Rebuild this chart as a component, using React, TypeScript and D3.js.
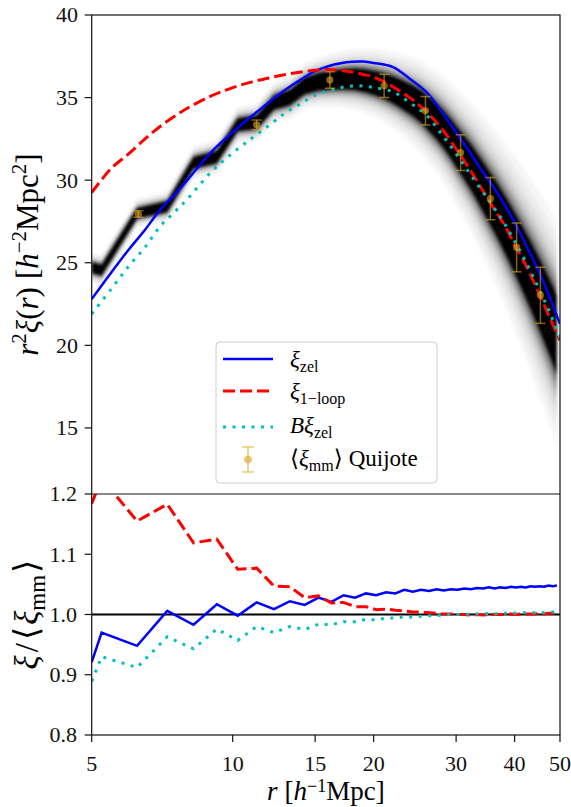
import * as d3 from 'd3'
import React from 'react'

// smooth theory curves
const rTheory = [5, 5.5, 6, 6.5, 7, 7.5, 8, 9, 10, 11, 12, 13, 14, 15, 16, 17, 18, 19, 20, 22, 24, 26, 28, 30, 32, 34, 36, 38, 40, 42, 44, 46, 48, 50];
const xiZel = [22.8, 24.4, 25.8, 27.0, 28.2, 29.1, 30.0, 31.7, 32.9, 33.9, 34.75, 35.5, 36.1, 36.6, 36.9, 37.08, 37.17, 37.18, 37.1, 36.85, 36.1, 35.3, 34.1, 32.9, 31.75, 30.6, 29.6, 28.55, 27.45, 26.25, 25.1, 23.9, 22.6, 21.3];
const xiLoop = [29.25, 30.7, 31.6, 32.5, 33.25, 33.85, 34.35, 35.1, 35.6, 35.95, 36.2, 36.4, 36.55, 36.65, 36.7, 36.65, 36.55, 36.4, 36.25, 35.65, 34.95, 34.1, 33.1, 31.9, 30.7, 29.5, 28.35, 27.3, 26.1, 25.0, 23.8, 22.6, 21.4, 20.3];
const xiB = [21.9, 23.4, 24.8, 25.95, 27.2, 28.05, 28.85, 30.5, 31.65, 32.55, 33.35, 34.1, 34.65, 35.15, 35.4, 35.6, 35.7, 35.7, 35.6, 35.35, 34.65, 33.9, 32.75, 31.6, 30.45, 29.4, 28.4, 27.4, 26.3, 25.2, 24.05, 22.9, 21.7, 20.45];

// Quijote mean with error bars
const rQuijote = [6.29, 11.25, 16.13, 21.06, 25.8, 30.67, 35.5, 40.4, 45.4];
const xiQuijote = [27.95, 33.35, 36.07, 35.71, 34.2, 31.67, 28.88, 25.93, 23.03];
const errQuijote = [0.2, 0.3, 0.5, 0.7, 0.86, 1.08, 1.28, 1.48, 1.7];

// binned r (simulation bins)
const rBins = [5, 5.25, 6.25, 7.25, 8.25, 9.25, 10.25, 11.25, 12.25, 13.25, 14.25, 15.25, 16.25, 17.25, 18.25, 19.25, 20.25, 21.25, 22.25, 23.25, 24.25, 25.25, 26.25, 27.25, 28.25, 29.25, 30.25, 31.25, 32.25, 33.25, 34.25, 35.25, 36.25, 37.25, 38.25, 39.25, 40.25, 41.25, 42.25, 43.25, 44.25, 45.25, 46.25, 47.25, 48.25, 49.25];
// centre and half-width of the band of realisations
const simMean = [24.7, 24.55, 28.0, 28.4, 31.05, 31.4, 33.35, 33.5, 34.7, 35.0, 35.7, 35.95, 36.05, 36.1, 36.1, 36.0, 35.85, 35.65, 35.4, 35.1, 34.8, 34.45, 34.0, 33.55, 33.05, 32.5, 31.9, 31.35, 30.8, 30.2, 29.6, 29.0, 28.45, 27.85, 27.25, 26.65, 26.05, 25.45, 24.85, 24.25, 23.65, 23.05, 22.45, 21.85, 21.25, 20.6];
const simSpread = [0.32, 0.32, 0.3, 0.32, 0.34, 0.36, 0.38, 0.4, 0.42, 0.45, 0.48, 0.52, 0.56, 0.6, 0.64, 0.68, 0.72, 0.77, 0.82, 0.87, 0.92, 0.97, 1.02, 1.07, 1.12, 1.18, 1.24, 1.3, 1.36, 1.42, 1.48, 1.54, 1.6, 1.66, 1.72, 1.78, 1.84, 1.9, 1.96, 2.02, 2.08, 2.14, 2.2, 2.26, 2.32, 2.38];

// ratio panel
const ratioZel = [0.921, 0.970, 0.948, 1.006, 0.983, 1.017, 0.998, 1.020, 1.009, 1.022, 1.016, 1.028, 1.021, 1.032, 1.028, 1.035, 1.032, 1.037, 1.035, 1.041, 1.038, 1.041, 1.039, 1.042, 1.040, 1.042, 1.041, 1.043, 1.042, 1.044, 1.043, 1.045, 1.043, 1.045, 1.044, 1.046, 1.045, 1.046, 1.045, 1.047, 1.046, 1.047, 1.046, 1.048, 1.047, 1.048];
const ratioLoop = [1.184, 1.226, 1.155, 1.183, 1.119, 1.125, 1.075, 1.077, 1.047, 1.046, 1.028, 1.031, 1.019, 1.020, 1.013, 1.013, 1.008, 1.009, 1.007, 1.006, 1.004, 1.004, 1.003, 1.002, 1.001, 1.001, 1.000, 1.000, 0.999, 1.000, 0.999, 1.000, 1.000, 1.000, 1.000, 1.001, 1.000, 1.001, 1.001, 1.001, 1.001, 1.002, 1.001, 1.002, 1.002, 1.002];
const ratioB = [0.889, 0.930, 0.912, 0.963, 0.943, 0.976, 0.957, 0.980, 0.970, 0.980, 0.975, 0.984, 0.983, 0.988, 0.988, 0.992, 0.991, 0.994, 0.994, 0.996, 0.996, 0.997, 0.998, 0.998, 0.999, 1.000, 1.000, 1.001, 1.000, 1.001, 1.001, 1.002, 1.001, 1.002, 1.002, 1.003, 1.002, 1.003, 1.003, 1.003, 1.003, 1.004, 1.003, 1.004, 1.004, 1.005];

const xTicks = [5, 10, 15, 20, 30, 40, 50];
const yTopTicks = [15, 20, 25, 30, 35, 40];
const yBotTicks = [0.8, 0.9, 1.0, 1.1, 1.2];

const font = '"Liberation Serif", "DejaVu Serif", serif';
const BLUE = '#0000ff', RED = '#ff0000', CYAN = '#00bfbf', GOLD = '#daa520';

const left = 91.7, right = 560, top = 15, mid = 494, bottom = 735;

const App = () => {
    const x = d3.scaleLog().domain([5, 50]).range([left, right]);
    const yTop = d3.scaleLinear().domain([11, 40]).range([mid, top]);
    const yBot = d3.scaleLinear().domain([0.8, 1.2]).range([bottom, mid]);

    const theory = (vals: number[]) =>
        d3.line<number>().x((_, i) => x(rTheory[i])).y(d => yTop(d)).curve(d3.curveCatmullRom.alpha(0.5))(vals) || '';
    const ratio = (vals: number[]) =>
        d3.line<number>().x((_, i) => x(rBins[i])).y(d => yBot(d))(vals) || '';
    const band = (k: number) =>
        d3.area<number>()
            .x((_, i) => x(rBins[i]))
            .y0((d, i) => yTop(d - k * simSpread[i]))
            .y1((d, i) => yTop(d + k * simSpread[i]))(simMean) || '';

    // stacked translucent envelopes imitate the many faint realisations
    const layers = [
        { k: 2.9, o: 0.035 },
        { k: 2.5, o: 0.045 },
        { k: 2.15, o: 0.06 },
        { k: 1.85, o: 0.08 },
        { k: 1.6, o: 0.12 },
        { k: 1.4, o: 0.18 },
        { k: 1.2, o: 0.3 },
        { k: 1.0, o: 1 },
    ];

    const zelStyle = { stroke: BLUE, strokeWidth: 2.5, fill: 'none' };
    const loopStyle = { stroke: RED, strokeWidth: 3, fill: 'none', strokeDasharray: '12,5' };
    const bStyle = { stroke: CYAN, strokeWidth: 3, fill: 'none', strokeDasharray: '3,6.5' };

    const legX = 216, legY = 342;

    return (
        <div style={{ position: 'absolute', left: 0, top: 0 }}>
            <svg width={571} height={807} style={{ display: 'block' }} fontFamily={font}>
                <defs>
                    <clipPath id="clipTop"><rect x={left} y={top} width={right - left} height={mid - top} /></clipPath>
                    <clipPath id="clipBot"><rect x={left} y={mid} width={right - left} height={bottom - mid} /></clipPath>
                    <filter id="soft" x="-5%" y="-5%" width="110%" height="110%">
                        <feGaussianBlur stdDeviation="1.6" />
                    </filter>
                </defs>
                <rect width={571} height={807} fill="white" />

                {/* top panel */}
                <g clipPath="url(#clipTop)">
                    <g filter="url(#soft)">
                        {layers.map(l => <path key={l.k} d={band(l.k)} fill="black" fillOpacity={l.o} />)}
                    </g>
                    <path d={theory(xiZel)} style={zelStyle} />
                    <path d={theory(xiLoop)} style={loopStyle} />
                    <path d={theory(xiB)} style={bStyle} />
                    {rQuijote.map((r, i) => (
                        <g key={r} stroke={GOLD} strokeOpacity={0.6} strokeWidth={1.5}>
                            <line x1={x(r)} x2={x(r)} y1={yTop(xiQuijote[i] - errQuijote[i])} y2={yTop(xiQuijote[i] + errQuijote[i])} />
                            <line x1={x(r) - 5} x2={x(r) + 5} y1={yTop(xiQuijote[i] - errQuijote[i])} y2={yTop(xiQuijote[i] - errQuijote[i])} />
                            <line x1={x(r) - 5} x2={x(r) + 5} y1={yTop(xiQuijote[i] + errQuijote[i])} y2={yTop(xiQuijote[i] + errQuijote[i])} />
                            <circle cx={x(r)} cy={yTop(xiQuijote[i])} r={3.6} fill={GOLD} fillOpacity={0.6} stroke="none" />
                        </g>
                    ))}
                </g>

                {/* bottom panel */}
                <g clipPath="url(#clipBot)">
                    <line x1={left} x2={right} y1={yBot(1)} y2={yBot(1)} stroke="black" strokeWidth={2} />
                    <path d={ratio(ratioZel)} style={zelStyle} />
                    <path d={ratio(ratioLoop)} style={loopStyle} />
                    <path d={ratio(ratioB)} style={bStyle} />
                </g>

                {/* legend */}
                <g>
                    <rect x={legX} y={legY} width={221} height={141} rx={4} fill="white" fillOpacity={0.8} stroke="#cccccc" strokeWidth={1} />
                    <line x1={223} x2={273} y1={359} y2={359} style={zelStyle} />
                    <line x1={223} x2={273} y1={391} y2={391} style={loopStyle} />
                    <line x1={223} x2={273} y1={427} y2={427} style={bStyle} />
                    <g stroke={GOLD} strokeOpacity={0.6} strokeWidth={1.5}>
                        <line x1={248} x2={248} y1={447} y2={472} />
                        <line x1={242} x2={254} y1={447} y2={447} />
                        <line x1={242} x2={254} y1={472} y2={472} />
                        <circle cx={248} cy={459.5} r={4} fill={GOLD} fillOpacity={0.6} stroke="none" />
                    </g>
                    <text x={290} y={367} fontSize={23}>
                        <tspan fontStyle="italic">ξ</tspan><tspan fontSize={16} dy={5}>zel</tspan>
                    </text>
                    <text x={290} y={399} fontSize={23}>
                        <tspan fontStyle="italic">ξ</tspan><tspan fontSize={16} dy={5}>1−loop</tspan>
                    </text>
                    <text x={290} y={433} fontSize={23}>
                        <tspan fontStyle="italic">Bξ</tspan><tspan fontSize={16} dy={5}>zel</tspan>
                    </text>
                    <text x={290} y={466} fontSize={23}>
                        <tspan>⟨</tspan><tspan fontStyle="italic">ξ</tspan><tspan fontSize={16} dy={5}>mm</tspan><tspan dy={-5}>⟩</tspan><tspan dx={6}>Quijote</tspan>
                    </text>
                </g>

                {/* spines */}
                <g stroke="#111" strokeWidth={1.2} fill="none">
                    <rect x={left} y={top} width={right - left} height={bottom - top} />
                    <line x1={left} x2={right} y1={mid} y2={mid} />
                </g>

                {/* ticks */}
                <g fontSize={22} fill="#111">
                    {yTopTicks.map(t => (
                        <g key={'t' + t}>
                            <line x1={left - 7} x2={left} y1={yTop(t)} y2={yTop(t)} stroke="#111" strokeWidth={1.2} />
                            <text x={78} y={yTop(t)} dy="0.34em" textAnchor="end">{t}</text>
                        </g>
                    ))}
                    {yBotTicks.map(t => (
                        <g key={'b' + t}>
                            <line x1={left - 7} x2={left} y1={yBot(t)} y2={yBot(t)} stroke="#111" strokeWidth={1.2} />
                            <text x={77} y={yBot(t)} dy="0.34em" textAnchor="end">{t.toFixed(1)}</text>
                        </g>
                    ))}
                    {xTicks.map(t => (
                        <g key={'x' + t}>
                            <line x1={x(t)} x2={x(t)} y1={bottom} y2={bottom + 7} stroke="#111" strokeWidth={1.2} />
                            <text x={x(t)} y={771} textAnchor="middle">{t}</text>
                        </g>
                    ))}
                </g>

                {/* axis labels */}
                <text transform={`translate(38,${(top + mid) / 2}) rotate(-90)`} textAnchor="middle" fontSize={31}>
                    <tspan fontStyle="italic">r</tspan>
                    <tspan fontSize={21} dy={-12}>2</tspan>
                    <tspan fontStyle="italic" dy={12}>ξ</tspan>
                    <tspan>(</tspan><tspan fontStyle="italic">r</tspan><tspan>)</tspan>
                    <tspan dx={8}>[</tspan><tspan fontStyle="italic">h</tspan>
                    <tspan fontSize={21} dy={-12}>−2</tspan>
                    <tspan dy={12}>Mpc</tspan>
                    <tspan fontSize={21} dy={-12}>2</tspan>
                    <tspan dy={12}>]</tspan>
                </text>
                <text transform={`translate(38,${(mid + bottom) / 2}) rotate(-90)`} textAnchor="middle" fontSize={33}>
                    <tspan fontStyle="italic">ξ</tspan>
                    <tspan dx={3}>/</tspan>
                    <tspan dx={3} fontSize={34}>⟨</tspan>
                    <tspan dx={2} fontStyle="italic">ξ</tspan>
                    <tspan fontSize={23} dy={7}>mm</tspan>
                    <tspan dx={2} dy={-7} fontSize={34}>⟩</tspan>
                </text>
                <text x={(left + right) / 2} y={800} textAnchor="middle" fontSize={27}>
                    <tspan fontStyle="italic">r</tspan>
                    <tspan dx={7}>[</tspan><tspan fontStyle="italic">h</tspan>
                    <tspan fontSize={18} dy={-8}>−1</tspan>
                    <tspan dy={8}>Mpc]</tspan>
                </text>
            </svg>
        </div>
    );
};

export default App;
